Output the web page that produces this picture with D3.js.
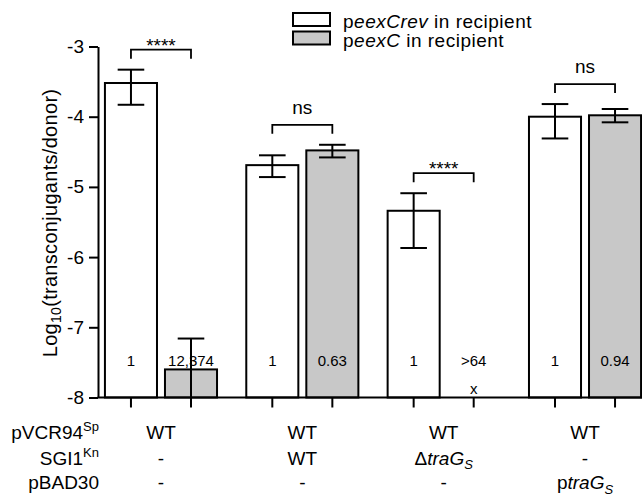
<!DOCTYPE html>
<html lang="en">
<head>
<meta charset="utf-8">
<title>Transconjugant frequency</title>
<script src="https://d3js.org/d3.v7.min.js"></script>
<style>
  body { margin: 0; background: #fff; }
  svg { display: block; font-family: Arial, "Liberation Sans", Helvetica, sans-serif; }
</style>
</head>
<body>
<script>
// data (log10 of transconjugants/donor)
const groups = ["WT", "SGI1", "dtraG", "ptraG"];
const seriesNames = ["peexCrev", "peexC"];

const revMean = [-3.52, -4.69, -5.34, -4.00];
const revHi   = [-3.33, -4.55, -5.09, -3.82];
const revLo   = [-3.83, -4.86, -5.87, -4.31];

const cMean = [-7.60, -4.48, null, -3.98];
const cHi   = [-7.16, -4.40, null, -3.89];
const cLo   = [-8.10, -4.58, null, -4.08];

const revRatio = ["1", "1", "1", "1"];
const cRatio   = ["12,374", "0.63", ">64", "0.94"];
const sigLabels = ["****", "ns", "****", "ns"];

const yTicks = [-3, -4, -5, -6, -7, -8];

const rowLabels = ["pVCR94<sup>Sp</sup>", "SGI1<sup>Kn</sup>", "pBAD30"];
const rowPVCR94 = ["WT", "WT", "WT", "WT"];
const rowSGI1   = ["-", "WT", "Δ<i>traG</i><si>S</si>", "-"];
const rowPBAD30 = ["-", "-", "-", "p<i>traG</i><si>S</si>"];

const legendLabels = ["p<i>eexCrev</i> in recipient", "p<i>eexC</i> in recipient"];
const fills = ["#ffffff", "#c8c8c8"];

const width = 642, height = 497;

const svg = d3.select("body").append("svg")
  .attr("width", width)
  .attr("height", height);

const y = d3.scaleLinear().domain([-8, -3]).range([397.5, 46.5]);

const x0 = d3.scaleBand().domain(groups).range([99, 647])
  .paddingInner(0.207).paddingOuter(0.042);
const x1 = d3.scaleBand().domain(seriesNames).range([0, x0.bandwidth()])
  .paddingInner(0.133);

// small helper: markup with <i>, <sub>, <sup>, <si> (italic subscript) -> tspans
function richText(sel, str, size, subShift) {
  const parts = str.split(/(<i>.*?<\/i>|<sub>.*?<\/sub>|<sup>.*?<\/sup>|<si>.*?<\/si>)/).filter(s => s.length);
  const down = subShift == null ? size * 0.3 : subShift;
  let shift = 0;
  parts.forEach(p => {
    const m = p.match(/^<(i|sub|sup|si)>(.*)<\/\1>$/);
    const tag = m ? m[1] : null;
    const txt = m ? m[2] : p;
    let want = 0;
    if (tag === "sub" || tag === "si") want = down;
    if (tag === "sup") want = -size * 0.4;
    const t = sel.append("tspan").text(txt).attr("dy", want - shift);
    shift = want;
    if (tag === "i" || tag === "si") t.style("font-style", "italic");
    if (tag === "sub" || tag === "si" || tag === "sup") t.style("font-size", Math.round(size * 0.68) + "px");
  });
}

// rows of bar records
const bars = [];
groups.forEach((g, i) => {
  bars.push({ g: g, s: seriesNames[0], mean: revMean[i], hi: revHi[i], lo: revLo[i], ratio: revRatio[i] });
  bars.push({ g: g, s: seriesNames[1], mean: cMean[i], hi: cHi[i], lo: cLo[i], ratio: cRatio[i] });
});
const cx = d => x0(d.g) + x1(d.s) + x1.bandwidth() / 2;

// bars
svg.append("g").selectAll("rect")
  .data(bars.filter(d => d.mean !== null))
  .join("rect")
    .attr("x", d => x0(d.g) + x1(d.s))
    .attr("y", d => y(d.mean))
    .attr("width", x1.bandwidth())
    .attr("height", d => y(-8) - y(d.mean))
    .attr("fill", d => fills[seriesNames.indexOf(d.s)])
    .attr("stroke", "#000")
    .attr("stroke-width", 2);

// error bars
const capW = 13.3;
const eb = svg.append("g").attr("stroke", "#000").attr("stroke-width", 2).attr("fill", "none");
bars.filter(d => d.mean !== null).forEach(d => {
  const lo = Math.max(d.lo, -8);
  eb.append("line").attr("x1", cx(d)).attr("x2", cx(d)).attr("y1", y(d.hi)).attr("y2", y(lo));
  eb.append("line").attr("x1", cx(d) - capW).attr("x2", cx(d) + capW).attr("y1", y(d.hi)).attr("y2", y(d.hi));
  if (d.lo >= -8)
    eb.append("line").attr("x1", cx(d) - capW).attr("x2", cx(d) + capW).attr("y1", y(d.lo)).attr("y2", y(d.lo));
});

// ratio labels inside bars
svg.append("g").selectAll("text")
  .data(bars)
  .join("text")
    .attr("x", cx)
    .attr("y", y(-8) - 31.5)
    .attr("text-anchor", "middle")
    .style("font-size", "15px")
    .text(d => d.ratio);

// "x" where no transconjugants
svg.append("g").selectAll("text")
  .data(bars.filter(d => d.mean === null))
  .join("text")
    .attr("x", cx)
    .attr("y", y(-8) - 4)
    .attr("text-anchor", "middle")
    .style("font-size", "15px")
    .text("x");

// significance brackets
groups.forEach((g, i) => {
  const pair = bars.filter(d => d.g === g);
  const top = d3.max(pair, d => d.hi);
  const yb = y(top) - 20;
  const xa = cx(pair[0]), xb = cx(pair[1]);
  svg.append("path")
    .attr("d", `M${xa},${yb + 9}V${yb}H${xb}V${yb + 9}`)
    .attr("fill", "none").attr("stroke", "#000").attr("stroke-width", 1.8);
  const stars = sigLabels[i] !== "ns";
  svg.append("text")
    .attr("x", (xa + xb) / 2)
    .attr("y", stars ? yb + 2 : yb - 11)
    .attr("text-anchor", "middle")
    .style("font-size", "19px")
    .text(sigLabels[i]);
});

// y axis
const yAxis = svg.append("g")
  .attr("transform", "translate(98,0)")
  .call(d3.axisLeft(y).tickValues(yTicks).tickSize(9).tickSizeOuter(0).tickPadding(5).tickFormat(d => String(d)));
yAxis.selectAll("path, line").attr("stroke", "#000").attr("stroke-width", 2);
yAxis.selectAll("text").attr("fill", "#000").style("font-size", "19px")
  .attr("font-family", null);

// x axis line and ticks
svg.append("line")
  .attr("x1", 97.5).attr("x2", width).attr("y1", y(-8)).attr("y2", y(-8))
  .attr("stroke", "#000").attr("stroke-width", 2);
svg.append("g").selectAll("line")
  .data(bars)
  .join("line")
    .attr("x1", cx).attr("x2", cx)
    .attr("y1", y(-8)).attr("y2", y(-8) + 10)
    .attr("stroke", "#000").attr("stroke-width", 2);

// y title
const yt = svg.append("text")
  .attr("transform", `translate(57,${(y(-3) + y(-8)) / 2 + 1}) rotate(-90)`)
  .attr("text-anchor", "middle")
  .style("font-size", "20px")
  .style("letter-spacing", "0.3px");
richText(yt, "Log<sub>10</sub>(transconjugants/donor)", 20, 4);

// legend
const lg = svg.append("g");
legendLabels.forEach((lab, i) => {
  lg.append("rect")
    .attr("x", 293).attr("y", 13 + i * 18.5)
    .attr("width", 37).attr("height", 13)
    .attr("fill", fills[i]).attr("stroke", "#000").attr("stroke-width", 2);
  const t = lg.append("text")
    .attr("x", 343).attr("y", 28 + i * 18.5)
    .style("font-size", "19px")
    .style("letter-spacing", "0.5px");
  richText(t, lab, 19);
});

// strain table under the axis
const rows = [rowPVCR94, rowSGI1, rowPBAD30];
const rowY = [439, 464.5, 489];
rows.forEach((row, r) => {
  const lab = svg.append("text")
    .attr("x", 99).attr("y", rowY[r])
    .attr("text-anchor", "end")
    .style("font-size", "19px");
  richText(lab, rowLabels[r], 19);
  row.forEach((cell, c) => {
    const t = svg.append("text")
      .attr("x", x0(groups[c]) + x0.bandwidth() / 2)
      .attr("y", rowY[r])
      .attr("text-anchor", "middle")
      .style("font-size", "19px");
    richText(t, cell, 19, 4.5);
  });
});
</script>
</body>
</html>
